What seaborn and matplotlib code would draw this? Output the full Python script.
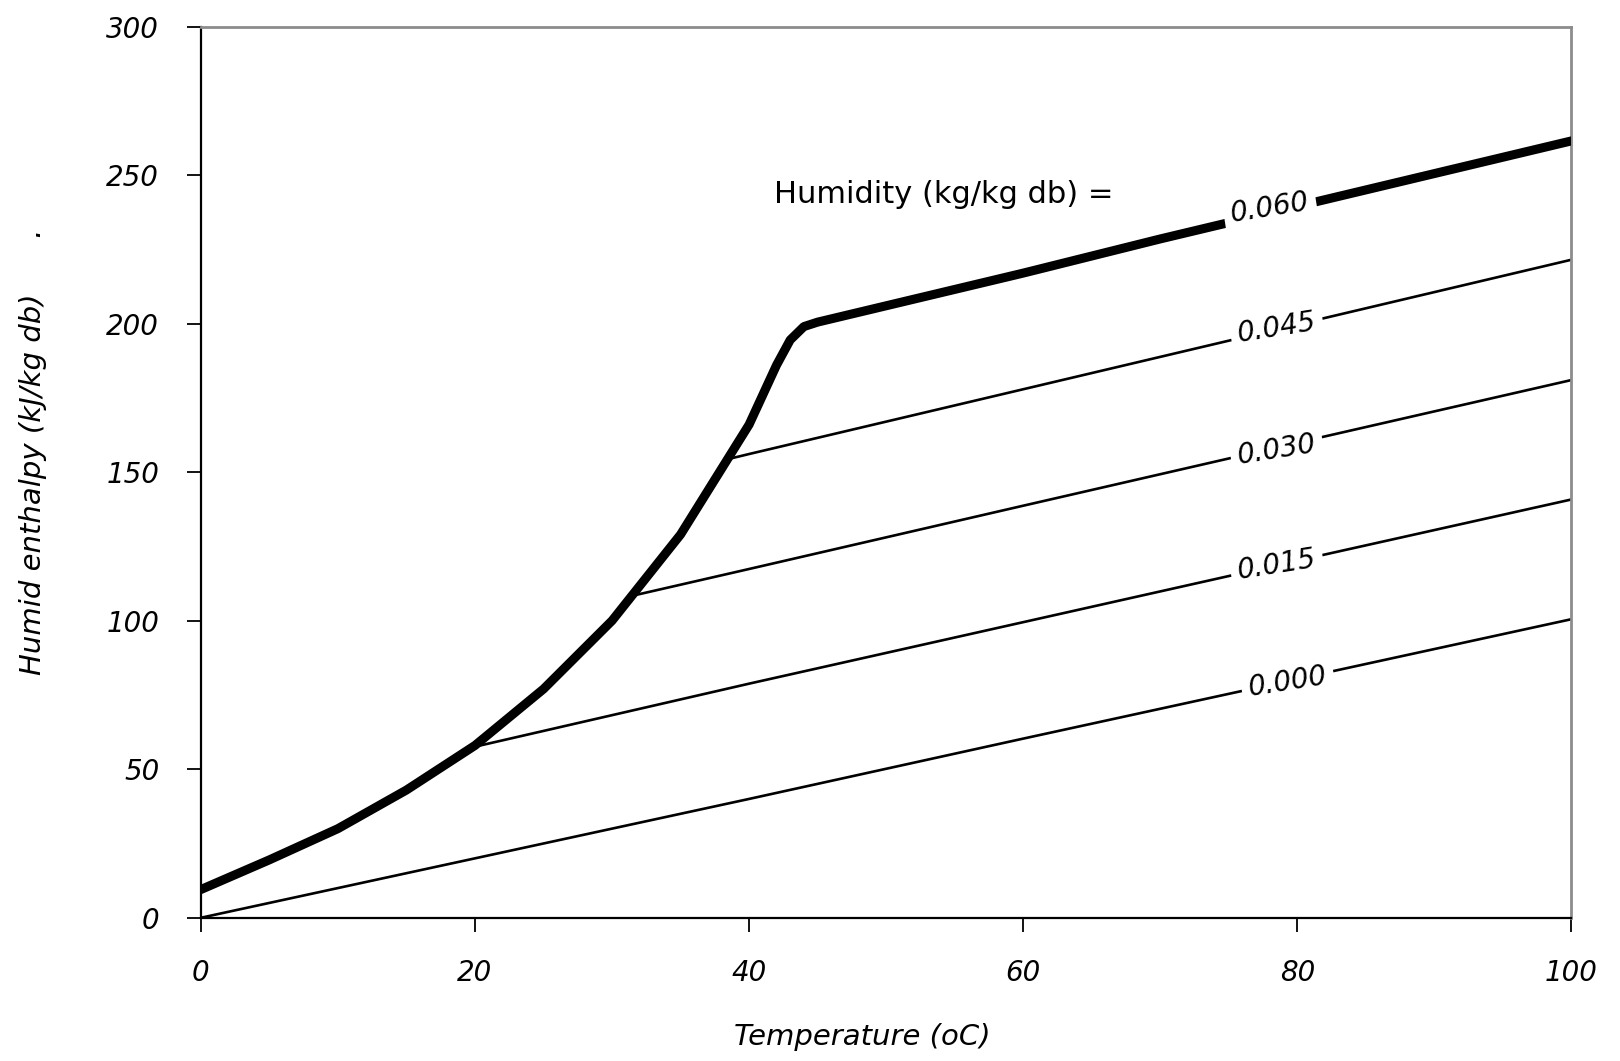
import matplotlib
matplotlib.use("Agg")
import matplotlib.pyplot as plt
import seaborn as sns
import pandas as pd

# Saturation curve (thick) continuing as the 0.060 humidity line
sat_temp = [0, 5, 10, 15, 20, 25, 30, 35, 40, 42, 43, 44, 45, 50, 55, 60, 70, 80, 90, 100]
sat_enth = [9.5, 19.5, 30, 43, 58, 77, 100, 129, 166, 186, 194.5, 199, 200.5, 206, 211.5, 217, 228.5, 239.5, 250.5, 261.5]

# Constant-humidity lines (thin)
h000_temp = [0, 20, 40, 60, 80, 100]
h000_enth = [0, 20, 40, 60.3, 80.4, 100.5]
h015_temp = [20.2, 40, 60, 80, 100]
h015_enth = [57.8, 78.8, 99.5, 120.2, 140.8]
h030_temp = [31.3, 40, 60, 80, 100]
h030_enth = [108.2, 117.4, 138.7, 159.9, 181.0]
h045_temp = [38.3, 40, 60, 80, 100]
h045_enth = [154.2, 156.1, 177.9, 199.7, 221.5]

labels = ["0.060", "0.045", "0.030", "0.015", "0.000"]
label_t = [78.0, 78.5, 78.5, 78.5, 79.3]
label_h = [239.0, 198.5, 157.5, 118.8, 79.3]

x_ticks = [0, 20, 40, 60, 80, 100]
y_ticks = [0, 50, 100, 150, 200, 250, 300]

sns.set_style("white")
plt.rcParams['font.family'] = ['DejaVu Sans']
plt.rcParams['text.color'] = 'black'
plt.rcParams['axes.labelcolor'] = 'black'
plt.rcParams['xtick.color'] = 'black'
plt.rcParams['ytick.color'] = 'black'

fig = plt.figure(figsize=(16.2, 10.61), dpi=100)
ax = fig.add_axes([0.124, 0.135, 0.846, 0.840])

thin = [(h000_temp, h000_enth), (h015_temp, h015_enth),
        (h030_temp, h030_enth), (h045_temp, h045_enth)]
for t, h in thin:
    df = pd.DataFrame({"T": t, "H": h})
    sns.lineplot(data=df, x="T", y="H", ax=ax, color="black", lw=1.9,
                 sort=False, zorder=2)

df_sat = pd.DataFrame({"T": sat_temp, "H": sat_enth})
sns.lineplot(data=df_sat, x="T", y="H", ax=ax, color="black", lw=6.5,
             sort=False, zorder=3, solid_joinstyle="round")

for lab, t, h in zip(labels, label_t, label_h):
    ax.text(t, h, lab, ha="center", va="center", fontsize=20, style="italic",
            rotation=9, zorder=5,
            bbox=dict(facecolor="white", edgecolor="none", pad=5))

ax.text(41.8, 243.5, "Humidity (kg/kg db) =", ha="left", va="center",
        fontsize=22, zorder=5)

ax.set_xlim(0, 100)
ax.set_ylim(0, 300)
ax.set_xticks(x_ticks)
ax.set_yticks(y_ticks)
ax.tick_params(axis="both", direction="out", length=10, width=1.3,
               color="black", labelsize=20, bottom=True, left=True)
ax.tick_params(axis="x", pad=20)
ax.tick_params(axis="y", pad=20)
for lab in ax.get_xticklabels() + ax.get_yticklabels():
    lab.set_fontstyle("italic")

for side in ["left", "bottom"]:
    ax.spines[side].set_color("black")
    ax.spines[side].set_linewidth(1.6)
for side in ["top", "right"]:
    ax.spines[side].set_color("#8c8c8c")
    ax.spines[side].set_linewidth(2.0)
    ax.spines[side].set_visible(True)

ax.set_xlabel("Temperature (oC)", fontsize=21, style="italic")
ax.set_ylabel("Humid enthalpy (kJ/kg db)      .", fontsize=21, style="italic")
ax.xaxis.set_label_coords(0.4825, -0.118)
ax.yaxis.set_label_coords(-0.112, 0.523)
ax.grid(False)

fig.savefig("out.png", dpi=100, facecolor="white")
